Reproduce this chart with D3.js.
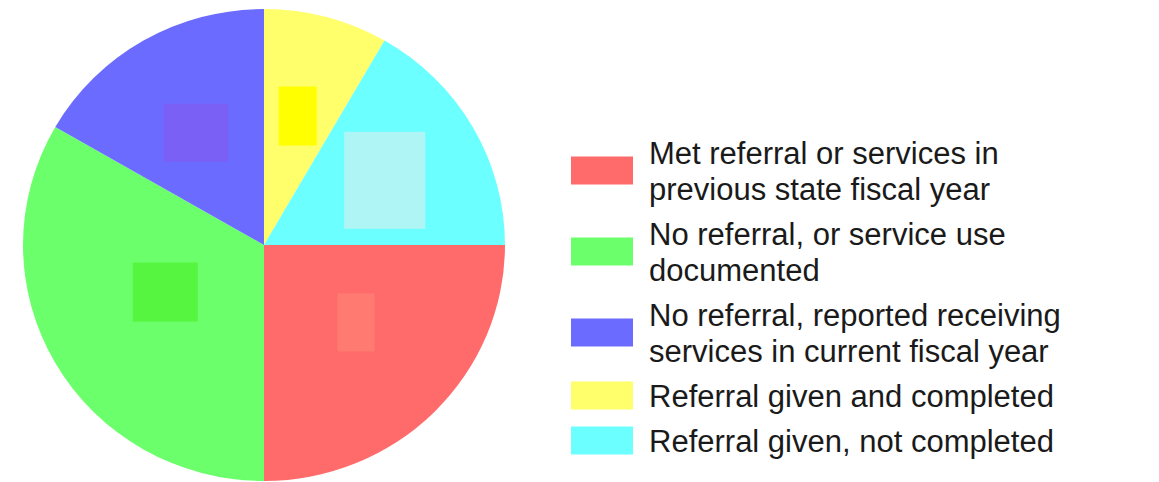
<!DOCTYPE html>
<html>
<head>
<meta charset="utf-8">
<script src="https://cdn.jsdelivr.net/npm/d3@7"></script>
<style>
  html, body { margin: 0; padding: 0; background: #fff; }
  svg { display: block; }
</style>
</head>
<body>
<svg id="chart"></svg>
<script>
const width = 1159
const height = 482

// data
const categories = [
  "Met referral or services in previous state fiscal year",
  "No referral, or service use documented",
  "No referral, reported receiving services in current fiscal year",
  "Referral given and completed",
  "Referral given, not completed"
]
const legendLines = [
  ["Met referral or services in", "previous state fiscal year"],
  ["No referral, or service use", "documented"],
  ["No referral, reported receiving", "services in current fiscal year"],
  ["Referral given and completed"],
  ["Referral given, not completed"]
]
const counts = [3, 4, 2, 1, 2]

const colors = ["#ff6b6b", "#6bff6b", "#6b6bff", "#ffff6b", "#6bffff"]
// faded label boxes sitting on each slice
const boxColors = ["#ff7b72", "#55f540", "#7b60f5", "#ffff00", "#b0f5f5"]
const boxSizes = [[37, 58], [65, 59], [64, 58], [38, 59], [81, 97]]
const boxShift = [[0, -13], [14, -17], [-3, -2], [0, -6], [8, -1]]

const cx = 264, cy = 245
const rx = 241, ry = 236

const svg = d3.select("#chart")
  .attr("width", width)
  .attr("height", height)

const pie = d3.pie()
  .sort(null)
  .value(d => d)
  .startAngle(Math.PI / 2)
  .endAngle(Math.PI / 2 + 2 * Math.PI)

const arcs = pie(counts)

const arc = d3.arc().innerRadius(0).outerRadius(rx)
const labelArc = d3.arc().innerRadius(rx * 0.54).outerRadius(rx * 0.54)

const pieG = svg.append("g")
  .attr("transform", `translate(${cx},${cy}) scale(1,${ry / rx})`)

pieG.selectAll("path.slice")
  .data(arcs)
  .join("path")
  .attr("class", "slice")
  .attr("d", arc)
  .attr("fill", (d, i) => colors[i])

pieG.selectAll("rect.lbl")
  .data(arcs)
  .join("rect")
  .attr("class", "lbl")
  .attr("x", (d, i) => labelArc.centroid(d)[0] - boxSizes[i][0] / 2 + boxShift[i][0])
  .attr("y", (d, i) => labelArc.centroid(d)[1] - boxSizes[i][1] * rx / ry / 2 + boxShift[i][1])
  .attr("width", (d, i) => boxSizes[i][0])
  .attr("height", (d, i) => boxSizes[i][1] * rx / ry)
  .attr("fill", (d, i) => boxColors[i])

// legend
const lineH = 36
const legend = svg.append("g").attr("transform", "translate(571,130)")
let yTop = 0
const entries = legendLines.map((lines, i) => {
  const h = lines.length * lineH + 9
  const e = { i, lines, center: yTop + h / 2 }
  yTop += h
  return e
})

const item = legend.selectAll("g.item")
  .data(entries)
  .join("g")
  .attr("class", "item")
  .attr("transform", d => `translate(0,${d.center})`)

item.append("rect")
  .attr("x", 0)
  .attr("y", -14)
  .attr("width", 62)
  .attr("height", 28)
  .attr("fill", d => colors[d.i])

item.append("text")
  .attr("x", 78)
  .attr("font-family", "Liberation Sans, Arial, sans-serif")
  .attr("font-size", 31)
  .attr("fill", "#1a1a1a")
  .selectAll("tspan")
  .data(d => d.lines.map((t, j) => ({ t, y: 11 + (j - (d.lines.length - 1) / 2) * lineH })))
  .join("tspan")
  .attr("x", 78)
  .attr("y", d => d.y)
  .text(d => d.t)
</script>
</body>
</html>
